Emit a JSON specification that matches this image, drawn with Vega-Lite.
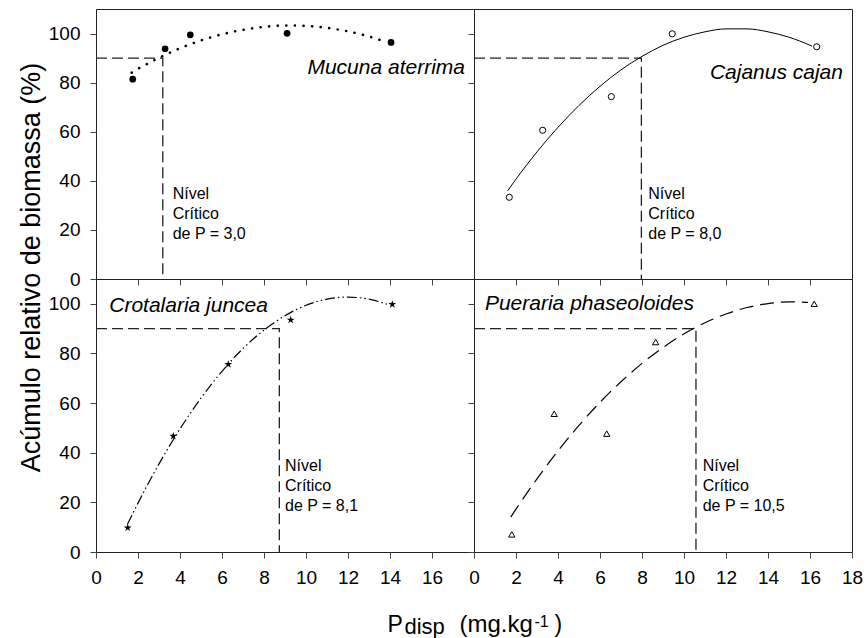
{
  "$schema": "https://vega.github.io/schema/vega-lite/v6.json",
  "padding": {"left": 16, "top": 8, "right": 10, "bottom": 0},
  "spacing": 0,
  "bounds": "flush",
  "columns": 2,
  "config": {
    "font": "Liberation Sans",
    "view": {"stroke": "#222", "strokeWidth": 1},
    "axis": {"labelFontSize": 19, "labelColor": "black", "tickColor": "#444", "tickSize": 6, "domain": false, "grid": false, "labelFlush": false, "labelOverlap": false, "labelBound": false, "labelPadding": 10, "titleFontWeight": "normal", "titleColor": "black", "titlePadding": 0},
    "text": {"font": "Liberation Sans", "color": "black"}
  },
  "datasets": {
    "pts": [
      {"sp": "Mucuna", "x": 1.75, "y": 81.4}, {"sp": "Mucuna", "x": 3.29, "y": 93.8}, {"sp": "Mucuna", "x": 4.49, "y": 99.5}, {"sp": "Mucuna", "x": 9.1, "y": 100.1}, {"sp": "Mucuna", "x": 14.05, "y": 96.4},
      {"sp": "Cajanus", "x": 1.68, "y": 33.3}, {"sp": "Cajanus", "x": 3.27, "y": 60.6}, {"sp": "Cajanus", "x": 6.54, "y": 74.3}, {"sp": "Cajanus", "x": 9.44, "y": 99.9}, {"sp": "Cajanus", "x": 16.32, "y": 94.6},
      {"sp": "Crotalaria", "x": 1.51, "y": 9.8}, {"sp": "Crotalaria", "x": 3.68, "y": 46.7}, {"sp": "Crotalaria", "x": 6.3, "y": 75.6}, {"sp": "Crotalaria", "x": 9.27, "y": 93.5}, {"sp": "Crotalaria", "x": 14.11, "y": 99.8},
      {"sp": "Pueraria", "x": 1.8, "y": 7.1}, {"sp": "Pueraria", "x": 3.82, "y": 55.7}, {"sp": "Pueraria", "x": 6.32, "y": 47.7}, {"sp": "Pueraria", "x": 8.65, "y": 84.6}, {"sp": "Pueraria", "x": 16.2, "y": 100.0}
    ],
    "fit": [
      {"sp": "Mucuna", "x": 1.7, "y": 84.1}, {"sp": "Mucuna", "x": 2, "y": 85.6}, {"sp": "Mucuna", "x": 3, "y": 90.1}, {"sp": "Mucuna", "x": 4, "y": 94.0}, {"sp": "Mucuna", "x": 5, "y": 97.2}, {"sp": "Mucuna", "x": 6, "y": 99.7}, {"sp": "Mucuna", "x": 7, "y": 101.5}, {"sp": "Mucuna", "x": 8, "y": 102.7}, {"sp": "Mucuna", "x": 9, "y": 103.3}, {"sp": "Mucuna", "x": 10, "y": 103.1}, {"sp": "Mucuna", "x": 11, "y": 102.3}, {"sp": "Mucuna", "x": 12, "y": 100.9}, {"sp": "Mucuna", "x": 13, "y": 98.8}, {"sp": "Mucuna", "x": 13.7, "y": 96.9},
      {"sp": "Cajanus", "x": 1.6, "y": 35.9}, {"sp": "Cajanus", "x": 2, "y": 40.7}, {"sp": "Cajanus", "x": 3, "y": 51.8}, {"sp": "Cajanus", "x": 4, "y": 61.8}, {"sp": "Cajanus", "x": 5, "y": 70.7}, {"sp": "Cajanus", "x": 6, "y": 78.5}, {"sp": "Cajanus", "x": 7, "y": 85.2}, {"sp": "Cajanus", "x": 8, "y": 90.7}, {"sp": "Cajanus", "x": 9, "y": 95.2}, {"sp": "Cajanus", "x": 10, "y": 98.5}, {"sp": "Cajanus", "x": 11, "y": 100.7}, {"sp": "Cajanus", "x": 12, "y": 101.9}, {"sp": "Cajanus", "x": 13, "y": 101.9}, {"sp": "Cajanus", "x": 14, "y": 100.7}, {"sp": "Cajanus", "x": 15, "y": 98.5}, {"sp": "Cajanus", "x": 16, "y": 95.2}, {"sp": "Cajanus", "x": 16.1, "y": 94.8},
      {"sp": "Crotalaria", "x": 1.5, "y": 11.2}, {"sp": "Crotalaria", "x": 2, "y": 19.7}, {"sp": "Crotalaria", "x": 3, "y": 35.5}, {"sp": "Crotalaria", "x": 4, "y": 49.6}, {"sp": "Crotalaria", "x": 5, "y": 62.0}, {"sp": "Crotalaria", "x": 6, "y": 72.8}, {"sp": "Crotalaria", "x": 7, "y": 82.0}, {"sp": "Crotalaria", "x": 8, "y": 89.4}, {"sp": "Crotalaria", "x": 9, "y": 95.2}, {"sp": "Crotalaria", "x": 10, "y": 99.4}, {"sp": "Crotalaria", "x": 11, "y": 101.9}, {"sp": "Crotalaria", "x": 12, "y": 102.7}, {"sp": "Crotalaria", "x": 13, "y": 101.9}, {"sp": "Crotalaria", "x": 13.9, "y": 99.7},
      {"sp": "Pueraria", "x": 1.75, "y": 14.1}, {"sp": "Pueraria", "x": 2, "y": 17.3}, {"sp": "Pueraria", "x": 3, "y": 29.5}, {"sp": "Pueraria", "x": 4, "y": 40.7}, {"sp": "Pueraria", "x": 5, "y": 51.0}, {"sp": "Pueraria", "x": 6, "y": 60.3}, {"sp": "Pueraria", "x": 7, "y": 68.6}, {"sp": "Pueraria", "x": 8, "y": 76.0}, {"sp": "Pueraria", "x": 9, "y": 82.4}, {"sp": "Pueraria", "x": 10, "y": 87.9}, {"sp": "Pueraria", "x": 11, "y": 92.4}, {"sp": "Pueraria", "x": 12, "y": 95.9}, {"sp": "Pueraria", "x": 13, "y": 98.5}, {"sp": "Pueraria", "x": 14, "y": 100.1}, {"sp": "Pueraria", "x": 15, "y": 100.8}, {"sp": "Pueraria", "x": 15.9, "y": 100.6}
    ],
    "crit": [
      {"sp": "Mucuna", "o": 1, "x": 0, "y": 90}, {"sp": "Mucuna", "o": 2, "x": 3.18, "y": 90}, {"sp": "Mucuna", "o": 3, "x": 3.18, "y": 0},
      {"sp": "Cajanus", "o": 1, "x": 0, "y": 90}, {"sp": "Cajanus", "o": 2, "x": 7.97, "y": 90}, {"sp": "Cajanus", "o": 3, "x": 7.97, "y": 0},
      {"sp": "Crotalaria", "o": 1, "x": 0, "y": 90}, {"sp": "Crotalaria", "o": 2, "x": 8.73, "y": 90}, {"sp": "Crotalaria", "o": 3, "x": 8.73, "y": 0},
      {"sp": "Pueraria", "o": 1, "x": 0, "y": 90}, {"sp": "Pueraria", "o": 2, "x": 10.57, "y": 90}, {"sp": "Pueraria", "o": 3, "x": 10.57, "y": 0}
    ],
    "names": [
      {"sp": "Mucuna", "x": 17.57, "y": 86.1, "t": "Mucuna aterrima"},
      {"sp": "Cajanus", "x": 17.57, "y": 84.0, "t": "Cajanus cajan"},
      {"sp": "Crotalaria", "x": 0.63, "y": 99.1, "t": "Crotalaria juncea"},
      {"sp": "Pueraria", "x": 0.52, "y": 99.8, "t": "Pueraria phaseoloides"}
    ],
    "nivel": [
      {"sp": "Mucuna", "x": 3.65, "y": 37.7, "t": "Nível|Crítico|de P = 3,0"},
      {"sp": "Cajanus", "x": 8.3, "y": 37.9, "t": "Nível|Crítico|de P = 8,0"},
      {"sp": "Crotalaria", "x": 9.0, "y": 37.8, "t": "Nível|Crítico|de P = 8,1"},
      {"sp": "Pueraria", "x": 10.89, "y": 37.8, "t": "Nível|Crítico|de P = 10,5"}
    ]
  },
  "concat": [
    {
      "width": 378, "height": 270,
      "encoding": {
        "x": {"field": "x", "type": "quantitative", "scale": {"domain": [0, 18], "nice": false, "zero": false},
              "axis": {"values": [0, 2, 4, 6, 8, 10, 12, 14, 16], "labels": false, "title": "disp", "titleX": 308, "titleY": 354, "titleAlign": "left", "titleBaseline": "alphabetic", "titleFontSize": 22}},
        "y": {"field": "y", "type": "quantitative", "scale": {"domain": [0, 110], "nice": false},
              "axis": {"values": [0, 20, 40, 60, 80, 100], "title": "Acúmulo relativo de biomassa (%)", "titleX": -57, "titleY": 258, "titleAngle": -90, "titleAlign": "center", "titleBaseline": "alphabetic", "titleFontSize": 27}}
      },
      "layer": [
        {"data": {"name": "crit"}, "transform": [{"filter": "datum.sp == 'Mucuna'"}], "mark": {"type": "line", "color": "#222", "strokeWidth": 1.3, "strokeDash": [11, 5]}, "encoding": {"order": {"field": "o", "type": "quantitative"}}},
        {"data": {"name": "fit"}, "transform": [{"filter": "datum.sp == 'Mucuna'"}], "mark": {"type": "line", "color": "black", "strokeWidth": 2.6, "strokeDash": [0.1, 8.5], "strokeCap": "round", "interpolate": "monotone"}},
        {"data": {"name": "pts"}, "transform": [{"filter": "datum.sp == 'Mucuna'"}], "mark": {"type": "point", "shape": "circle", "filled": true, "color": "black", "size": 45, "opacity": 1}},
        {"data": {"name": "names"}, "transform": [{"filter": "datum.sp == 'Mucuna'"}], "mark": {"type": "text", "align": "right", "baseline": "middle", "fontSize": 21, "fontStyle": "italic"}, "encoding": {"text": {"field": "t"}}},
        {"data": {"name": "nivel"}, "transform": [{"filter": "datum.sp == 'Mucuna'"}], "mark": {"type": "text", "align": "left", "baseline": "top", "fontSize": 16, "lineHeight": 20, "lineBreak": "|"}, "encoding": {"text": {"field": "t"}}}
      ]
    },
    {
      "width": 378, "height": 270,
      "encoding": {
        "x": {"field": "x", "type": "quantitative", "scale": {"domain": [0, 18], "nice": false, "zero": false},
              "axis": {"values": [0, 2, 4, 6, 8, 10, 12, 14, 16, 18], "labels": false, "title": "-1", "titleX": 60, "titleY": 347, "titleAlign": "left", "titleBaseline": "alphabetic", "titleFontSize": 16}},
        "y": {"field": "y", "type": "quantitative", "scale": {"domain": [0, 110], "nice": false},
              "axis": {"values": [0, 20, 40, 60, 80, 100], "labels": false, "title": null}}
      },
      "layer": [
        {"data": {"name": "crit"}, "transform": [{"filter": "datum.sp == 'Cajanus'"}], "mark": {"type": "line", "color": "#222", "strokeWidth": 1.3, "strokeDash": [11, 5]}, "encoding": {"order": {"field": "o", "type": "quantitative"}}},
        {"data": {"name": "fit"}, "transform": [{"filter": "datum.sp == 'Cajanus'"}], "mark": {"type": "line", "color": "black", "strokeWidth": 1, "interpolate": "monotone"}},
        {"data": {"name": "pts"}, "transform": [{"filter": "datum.sp == 'Cajanus'"}], "mark": {"type": "point", "shape": "circle", "filled": false, "fill": "white", "stroke": "black", "strokeWidth": 1, "size": 38, "opacity": 1, "fillOpacity": 1}},
        {"data": {"name": "names"}, "transform": [{"filter": "datum.sp == 'Cajanus'"}], "mark": {"type": "text", "align": "right", "baseline": "middle", "fontSize": 21, "fontStyle": "italic"}, "encoding": {"text": {"field": "t"}}},
        {"data": {"name": "nivel"}, "transform": [{"filter": "datum.sp == 'Cajanus'"}], "mark": {"type": "text", "align": "left", "baseline": "top", "fontSize": 16, "lineHeight": 20, "lineBreak": "|"}, "encoding": {"text": {"field": "t"}}}
      ]
    },
    {
      "width": 378, "height": 273,
      "encoding": {
        "x": {"field": "x", "type": "quantitative", "scale": {"domain": [0, 18], "nice": false, "zero": false},
              "axis": {"values": [0, 2, 4, 6, 8, 10, 12, 14, 16], "title": "P", "titleX": 291, "titleY": 79, "titleAlign": "left", "titleBaseline": "alphabetic", "titleFontSize": 23}},
        "y": {"field": "y", "type": "quantitative", "scale": {"domain": [0, 110], "nice": false},
              "axis": {"values": [0, 20, 40, 60, 80, 100], "title": null}}
      },
      "layer": [
        {"data": {"name": "crit"}, "transform": [{"filter": "datum.sp == 'Crotalaria'"}], "mark": {"type": "line", "color": "#222", "strokeWidth": 1.3, "strokeDash": [11, 5]}, "encoding": {"order": {"field": "o", "type": "quantitative"}}},
        {"data": {"name": "fit"}, "transform": [{"filter": "datum.sp == 'Crotalaria'"}], "mark": {"type": "line", "color": "black", "strokeWidth": 1.2, "strokeDash": [10, 3, 1.5, 3, 1.5, 3], "interpolate": "monotone"}},
        {"data": {"name": "pts"}, "transform": [{"filter": "datum.sp == 'Crotalaria'"}], "mark": {"type": "point", "shape": "M0,-1L0.2245,-0.309L0.9511,-0.309L0.3633,0.118L0.5878,0.809L0,0.382L-0.5878,0.809L-0.3633,0.118L-0.9511,-0.309L-0.2245,-0.309Z", "filled": true, "color": "black", "size": 70, "opacity": 1}},
        {"data": {"name": "names"}, "transform": [{"filter": "datum.sp == 'Crotalaria'"}], "mark": {"type": "text", "align": "left", "baseline": "middle", "fontSize": 21, "fontStyle": "italic"}, "encoding": {"text": {"field": "t"}}},
        {"data": {"name": "nivel"}, "transform": [{"filter": "datum.sp == 'Crotalaria'"}], "mark": {"type": "text", "align": "left", "baseline": "top", "fontSize": 16, "lineHeight": 20, "lineBreak": "|"}, "encoding": {"text": {"field": "t"}}}
      ]
    },
    {
      "width": 378, "height": 273,
      "encoding": {
        "x": {"field": "x", "type": "quantitative", "scale": {"domain": [0, 18], "nice": false, "zero": false},
              "axis": {"values": [0, 2, 4, 6, 8, 10, 12, 14, 16, 18], "title": "(mg.kg", "titleX": -15, "titleY": 79, "titleAlign": "left", "titleBaseline": "alphabetic", "titleFontSize": 24}},
        "y": {"field": "y", "type": "quantitative", "scale": {"domain": [0, 110], "nice": false},
              "axis": {"values": [0, 20, 40, 60, 80, 100], "labels": false, "title": ")", "titleAngle": 0, "titleX": 80, "titleY": 352, "titleAlign": "left", "titleBaseline": "alphabetic", "titleFontSize": 23}}
      },
      "layer": [
        {"data": {"name": "crit"}, "transform": [{"filter": "datum.sp == 'Pueraria'"}], "mark": {"type": "line", "color": "#222", "strokeWidth": 1.3, "strokeDash": [11, 5]}, "encoding": {"order": {"field": "o", "type": "quantitative"}}},
        {"data": {"name": "fit"}, "transform": [{"filter": "datum.sp == 'Pueraria'"}], "mark": {"type": "line", "color": "black", "strokeWidth": 1.2, "strokeDash": [14, 7], "interpolate": "monotone"}},
        {"data": {"name": "pts"}, "transform": [{"filter": "datum.sp == 'Pueraria'"}], "mark": {"type": "point", "shape": "triangle-up", "filled": false, "stroke": "black", "strokeWidth": 1, "size": 40, "opacity": 1}},
        {"data": {"name": "names"}, "transform": [{"filter": "datum.sp == 'Pueraria'"}], "mark": {"type": "text", "align": "left", "baseline": "middle", "fontSize": 21, "fontStyle": "italic"}, "encoding": {"text": {"field": "t"}}},
        {"data": {"name": "nivel"}, "transform": [{"filter": "datum.sp == 'Pueraria'"}], "mark": {"type": "text", "align": "left", "baseline": "top", "fontSize": 16, "lineHeight": 20, "lineBreak": "|"}, "encoding": {"text": {"field": "t"}}}
      ]
    }
  ]
}
